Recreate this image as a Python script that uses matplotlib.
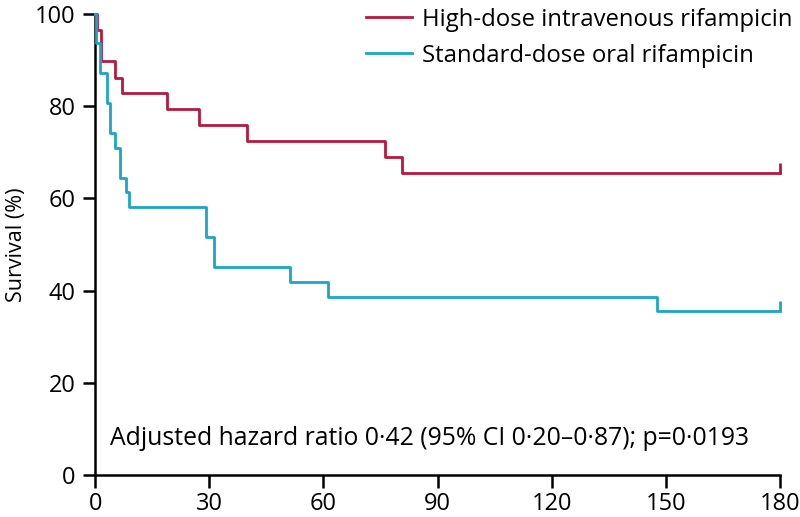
import matplotlib
matplotlib.use('Agg')
import matplotlib.pyplot as plt

plt.rcParams['font.family'] = ['Open Sans', 'DejaVu Sans']

# high-dose iv group
dias_hd = [0, 0.5, 1.5, 5.3, 7, 19, 27.3, 40, 76.2, 80.6, 180]
sobrev_hd = [100, 96.6, 89.7, 86.2, 82.8, 79.3, 75.9, 72.4, 69.0, 65.5, 65.5]

# standard-dose oral group
dias_sd = [0, 0.1, 1.3, 3.1, 3.9, 5.1, 6.4, 8.1, 9.0, 29.1, 31.1, 51.2, 61.3, 147.6, 180]
sobrev_sd = [100, 93.6, 87.1, 80.6, 74.2, 71.0, 64.5, 61.3, 58.1, 51.6, 45.2, 41.9, 38.7, 35.5, 35.5]

cor_hd = '#B8173F'
cor_sd = '#1BA5C8'

fig = plt.figure(figsize=(8, 5.17), dpi=100)
ax = fig.add_axes([0.119, 0.081, 0.856, 0.892])

ax.plot(dias_hd, sobrev_hd, drawstyle='steps-post', color=cor_hd, lw=2.0,
        label='High-dose intravenous rifampicin', clip_on=False, zorder=3)
ax.plot(dias_sd, sobrev_sd, drawstyle='steps-post', color=cor_sd, lw=2.0,
        label='Standard-dose oral rifampicin', clip_on=False, zorder=3)

# censor marks at end of follow-up
ax.vlines(dias_hd[-1], sobrev_hd[-1], sobrev_hd[-1] + 2.2, color=cor_hd, lw=2.0, clip_on=False)
ax.vlines(dias_sd[-1], sobrev_sd[-1], sobrev_sd[-1] + 2.2, color=cor_sd, lw=2.0, clip_on=False)

ax.set_xlim(0, 180)
ax.set_ylim(0, 100)
ax.set_xticks(range(0, 181, 30))
ax.set_yticks(range(0, 101, 20))
ax.spines['top'].set_visible(False)
ax.spines['right'].set_visible(False)
for s in ['left', 'bottom']:
    ax.spines[s].set_linewidth(1.8)
ax.tick_params(width=1.8, length=9, labelsize=17)
ax.tick_params(axis='y', pad=5)
ax.tick_params(axis='x', pad=3)
ax.set_ylabel('Survival (%)', fontsize=15.5, labelpad=6)

ax.text(0.022, 0.08, 'Adjusted hazard ratio 0·42 (95% CI 0·20–0·87); p=0·0193',
        transform=ax.transAxes, fontsize=17.8, va='center')

fig.legend(handles=ax.get_lines(), loc='upper right', bbox_to_anchor=(1.006, 1.008),
           frameon=False, fontsize=17.2, borderpad=0, handlelength=1.9,
           handletextpad=0.45, labelspacing=0.5)

fig.savefig('out.png', dpi=100)
